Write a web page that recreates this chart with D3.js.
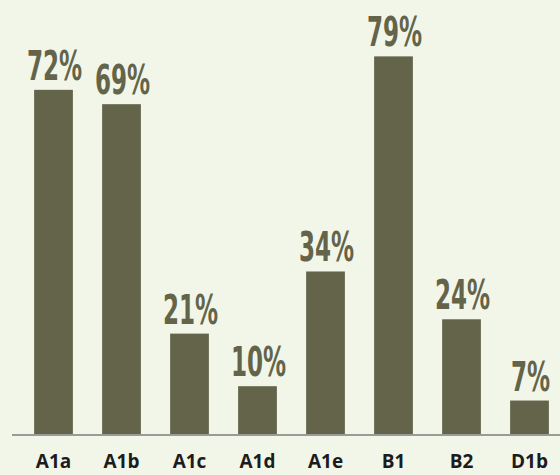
<!DOCTYPE html>
<html>
<head>
<meta charset="utf-8">
<script src="https://cdn.jsdelivr.net/npm/d3@7"></script>
<style>
  body { margin: 0; background: #f2f6e8; }
  svg { display: block; }
</style>
</head>
<body>
<script>
// bar chart data
var categories = ["A1a", "A1b", "A1c", "A1d", "A1e", "B1", "B2", "D1b"];
var values = [72, 69, 21, 10, 34, 79, 24, 7];

var w = 560, h = 475;
var base = 434; // baseline of bars

var svg = d3.select("body").append("svg")
    .attr("width", w)
    .attr("height", h);

svg.append("rect")
    .attr("width", w)
    .attr("height", h)
    .attr("fill", "#f2f6e8");

var x = d3.scaleBand()
    .domain(categories)
    .range([19.5, 563.5])
    .paddingInner(0.43)
    .paddingOuter(0.215);

var y = d3.scaleLinear()
    .domain([0, 100])
    .range([base, base - 478]);

var data = categories.map(function(c, i){ return {cat: c, val: values[i]}; });

// bars
svg.selectAll(".bar")
    .data(data)
    .enter().append("rect")
    .attr("class", "bar")
    .attr("x", function(d){ return x(d.cat); })
    .attr("width", x.bandwidth())
    .attr("y", function(d){ return y(d.val); })
    .attr("height", function(d){ return base - y(d.val); })
    .attr("fill", "#636449");

// value labels (condensed look)
svg.selectAll(".val")
    .data(data)
    .enter().append("text")
    .attr("class", "val")
    .attr("transform", function(d){
        var cx = x(d.cat) + x.bandwidth() / 2 + 1;
        return "translate(" + cx + "," + (y(d.val) - 10) + ") scale(0.64,1)";
    })
    .attr("text-anchor", "middle")
    .style("font-family", "'DejaVu Sans Condensed', 'DejaVu Sans', sans-serif")
    .style("font-weight", "bold")
    .style("font-size", "40px")
    .attr("fill", "#636449")
    .text(function(d){ return d.val + "%"; });

// baseline
svg.append("line")
    .attr("x1", 12)
    .attr("x2", w)
    .attr("y1", base + 1)
    .attr("y2", base + 1)
    .attr("stroke", "#9a9a96")
    .attr("stroke-width", 2);

// category labels
var xAxis = d3.axisBottom(x).tickSize(0).tickPadding(0);
var gx = svg.append("g")
    .attr("transform", "translate(0," + 468 + ")")
    .call(xAxis);
gx.select(".domain").remove();
gx.selectAll("text")
    .attr("dy", "0")
    .style("font-family", "'Open Sans', sans-serif")
    .style("font-weight", "bold")
    .style("font-size", "19px")
    .attr("fill", "#1c1c1c");
</script>
</body>
</html>
